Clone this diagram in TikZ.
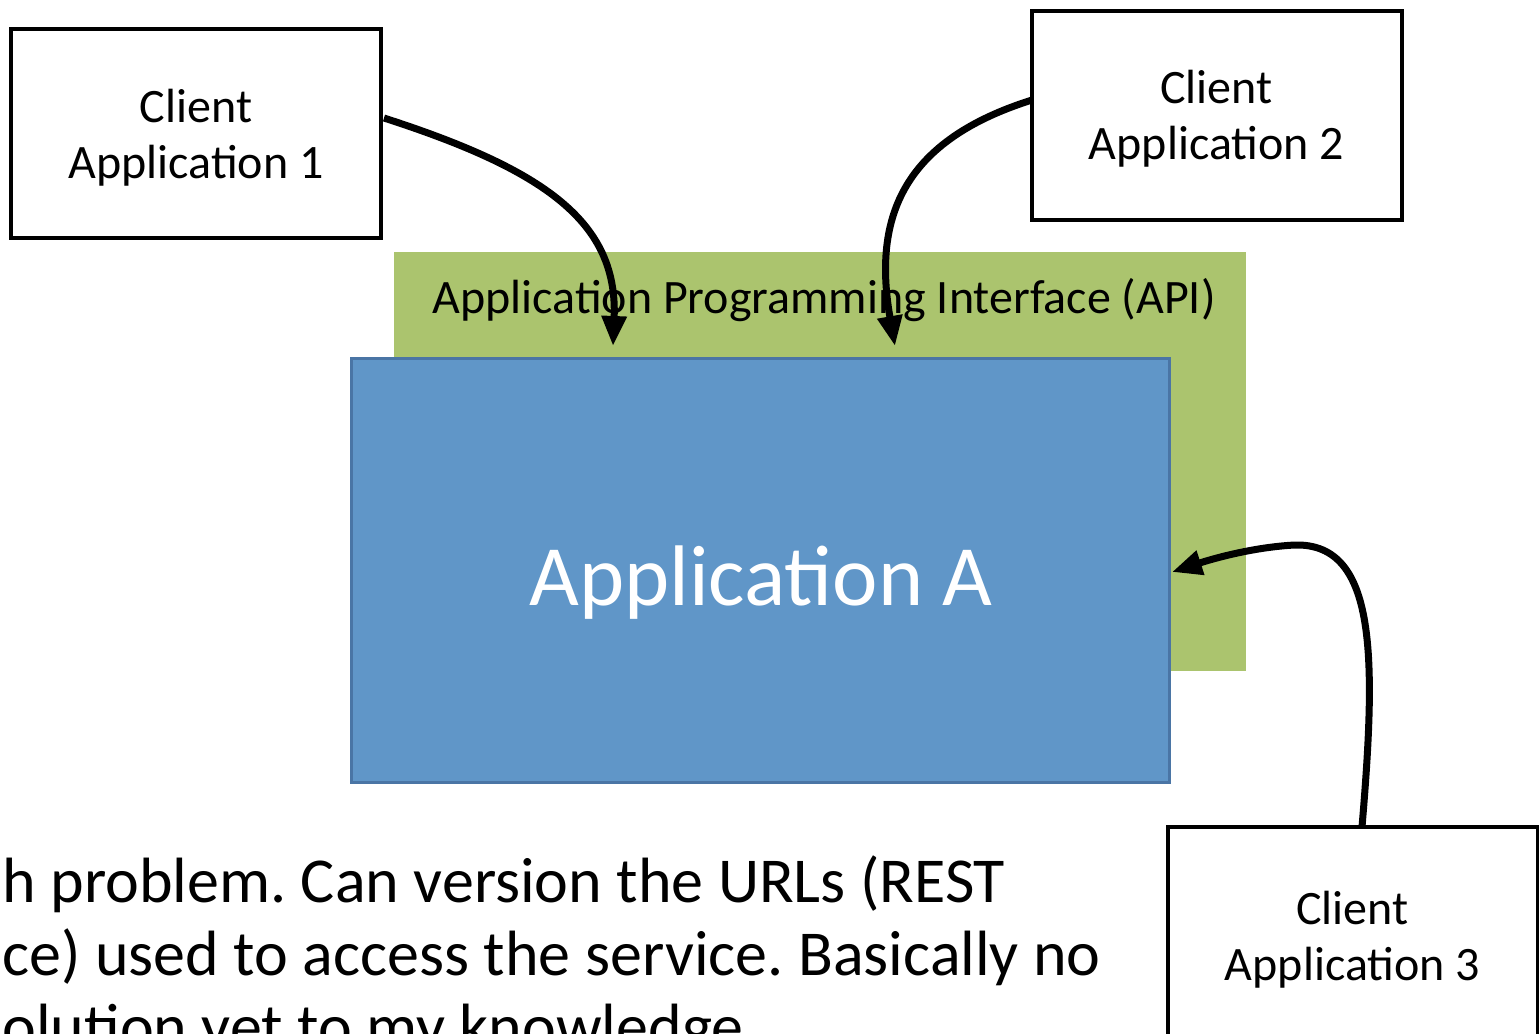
\documentclass[tikz,border=0pt]{standalone}
\usepackage{fontspec}
\setmainfont{Carlito}
\usetikzlibrary{arrows.meta}
\definecolor{apigreen}{HTML}{ABC46E}
\definecolor{appblue}{HTML}{6096C8}
\definecolor{appborder}{HTML}{4A75A5}
\tikzset{
  clientbox/.style={draw=black, line width=2pt, fill=white, align=center,
    minimum width=185pt, minimum height=104.5pt, inner sep=0pt, text depth=0pt,
    font=\fontsize{24}{28}\selectfont},
  callarrow/.style={line width=3.5pt, -{Triangle[length=15pt,width=12pt]}},
  bodytext/.style={anchor=base west, inner sep=0pt, font=\fontsize{32}{36.5}\selectfont\frenchspacing},
}
\begin{document}
\begin{tikzpicture}[x=0.5pt,y=-0.5pt]
\useasboundingbox (0,0) rectangle (1539,1034);
\clip (0,0) rectangle (1539,1034);
\fill[white] (0,0) rectangle (1539,1034);
% API background
\node[fill=apigreen, minimum width=426pt, minimum height=209.5pt, inner sep=0pt] (api) at (820,461.5) {};
\node[font=\fontsize{24}{28}\selectfont, anchor=base] (apilabel) at (824,313) {Application Programming Interface (API)};
% Application A
\node[fill=appblue, draw=appborder, line width=1.5pt, minimum width=409pt, minimum height=212pt, inner sep=0pt] (appA) at (760,570) {};
\node[font=\fontsize{43}{50}\selectfont, text=white, anchor=base] (appAlabel) at (761,605) {Application A};
% Clients
\node[clientbox] (c1) at (196,133.5) {Client\\Application 1};
\node[clientbox] (c2) at (1216.5,115) {Client\\Application 2};
\node[clientbox, minimum height=109pt] (c3) at (1352.5,936) {Client\\Application 3};
% connector endpoints
\coordinate (s1) at (384,118);
\coordinate (t1) at (613,346);
\coordinate (s2) at (1032,100);
\coordinate (t2) at (895,346);
\coordinate (s3) at (1362,827);
\coordinate (m3) at (1295,545);
\coordinate (t3) at (1172,572);
\draw[callarrow] (s1) .. controls (545,170) and (618,222) .. (t1);
\draw[callarrow] (s2) .. controls (905,140) and (872,215) .. (t2);
\draw[callarrow] (s3) .. controls (1376,660) and (1378,543) .. (m3) .. controls (1255,547) and (1215,558) .. (t3);
% bottom text (cut off at the edges, as in the reference)
\node[bodytext] (l1) at (2,902) {h problem. Can version the URLs (REST};
\node[bodytext] (l2) at (2,975) {ce) used to access the service. Basically no};
\node[bodytext] (l3) at (2,1048) {olution yet to my knowledge.};
\end{tikzpicture}
\end{document}
